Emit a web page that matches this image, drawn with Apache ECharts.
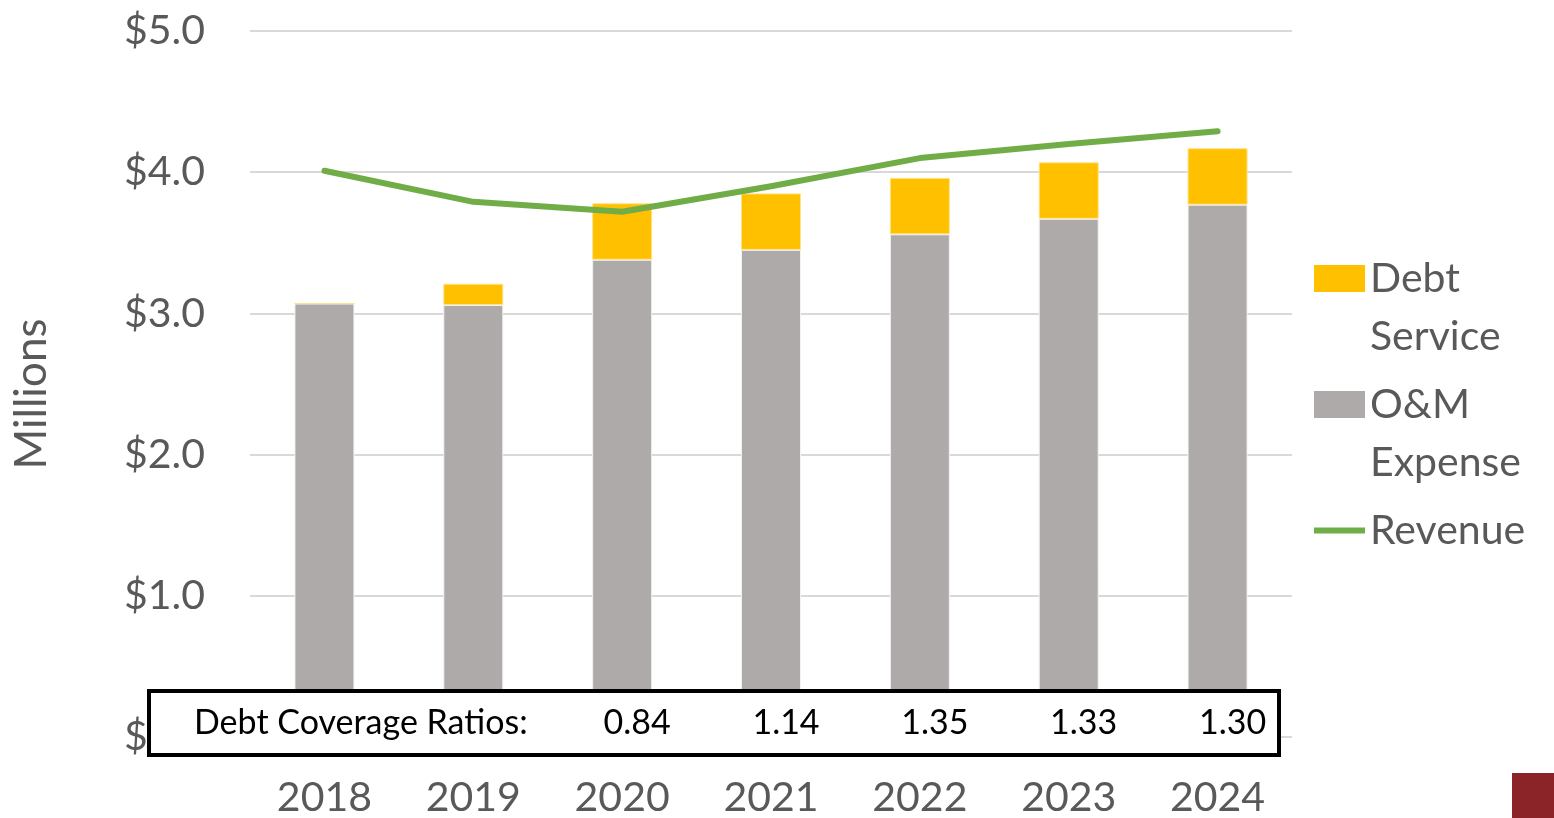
<!DOCTYPE html>
<html>
<head>
<meta charset="utf-8">
<script src="https://cdn.jsdelivr.net/npm/echarts@6/dist/echarts.min.js"></script>
<style>
html,body{margin:0;padding:0;background:#fff;}
#chart{width:1554px;height:818px;}
</style>
</head>
<body>
<div id="chart"></div>
<script>
const years = ['2018','2019','2020','2021','2022','2023','2024'];
const omExpense = [3.07, 3.06, 3.38, 3.45, 3.56, 3.67, 3.77];
const debtService = [0, 0.15, 0.40, 0.40, 0.40, 0.40, 0.40];
const revenue = [4.01, 3.79, 3.72, 3.90, 4.10, 4.20, 4.29];
const coverageYears = ['2020','2021','2022','2023','2024'];
const coverageRatios = ['0.84','1.14','1.35','1.33','1.30'];

const FONT = 'Lato';
const GREY_TXT = '#595959';
const chart = echarts.init(document.getElementById('chart'));

const option = {
  animation: false,
  backgroundColor: '#ffffff',
  grid: {left: 250, right: 262, top: 31, bottom: 80, containLabel: false},
  legend: {
    orient: 'vertical',
    left: 1314,
    top: 191.5,
    padding: 0,
    itemWidth: 51,
    itemHeight: 27,
    itemGap: -48,
    formatter: function (n) {
      if (n === 'Debt Service') return ' \nDebt\nService';
      if (n === 'O&M Expense') return ' \nO&M\nExpense';
      return ' \nRevenue\n ';
    },
    textStyle: {fontFamily: FONT, fontSize: 41, color: GREY_TXT, lineHeight: 58},
    itemStyle: {borderWidth: 0},
    data: [
      {name: 'Debt Service', icon: 'rect'},
      {name: 'O&M Expense', icon: 'rect'},
      {name: 'Revenue', icon: 'path://M0,0H51V6H0Z'}
    ]
  },
  xAxis: {
    type: 'category',
    data: years,
    axisLine: {show: false},
    axisTick: {show: false},
    axisLabel: {fontFamily: FONT, fontSize: 41, color: GREY_TXT, margin: 40}
  },
  yAxis: {
    type: 'value',
    min: 0, max: 5, interval: 1,
    name: 'Millions',
    nameLocation: 'middle',
    nameGap: 196,
    nameTextStyle: {fontFamily: FONT, fontSize: 44, color: GREY_TXT, padding: [0, 20, 0, 0]},
    axisLine: {show: false},
    axisTick: {show: false},
    splitLine: {lineStyle: {color: '#D9D9D9', width: 2}},
    axisLabel: {
      fontFamily: FONT, fontSize: 41, color: GREY_TXT, margin: 45,
      formatter: function (v) { return '$' + v.toFixed(1); }
    }
  },
  series: [
    {
      name: 'O&M Expense', type: 'bar', stack: 'cost', data: omExpense,
      barWidth: 60,
      itemStyle: {color: '#AEAAAA', borderColor: '#F2F2F2', borderWidth: 1}
    },
    {
      name: 'Debt Service', type: 'bar', stack: 'cost', data: debtService,
      barWidth: 60,
      itemStyle: {color: '#FFC000', borderColor: '#FFE38A', borderWidth: 1}
    },
    {
      name: 'Revenue', type: 'line', data: revenue,
      symbol: 'none',
      lineStyle: {color: '#70AD47', width: 6, cap: 'round', join: 'round'},
      itemStyle: {color: '#70AD47'},
      z: 5
    }
  ]
};
chart.setOption(option);

const texts = coverageYears.map(function (y, i) {
  const px = chart.convertToPixel({xAxisIndex: 0}, y);
  return {
    type: 'text', z: 102,
    x: px + 15, y: 723,
    style: {text: coverageRatios[i], fontFamily: FONT, fontSize: 34, fill: '#000000',
            align: 'center', verticalAlign: 'middle'}
  };
});

chart.setOption({
  graphic: [
    {type: 'rect', z: 100, shape: {x: 149, y: 691, width: 1130, height: 64},
     style: {fill: '#ffffff', stroke: '#000000', lineWidth: 4}},
    {type: 'text', z: 102, x: 194, y: 723,
     style: {text: 'Debt Coverage Ratios:', fontFamily: FONT, fontSize: 34, fill: '#000000',
             align: 'left', verticalAlign: 'middle'}},
    {type: 'rect', z: 100, shape: {x: 1512, y: 773, width: 42, height: 45},
     style: {fill: '#8B2429'}}
  ].concat(texts)
});
</script>
</body>
</html>
